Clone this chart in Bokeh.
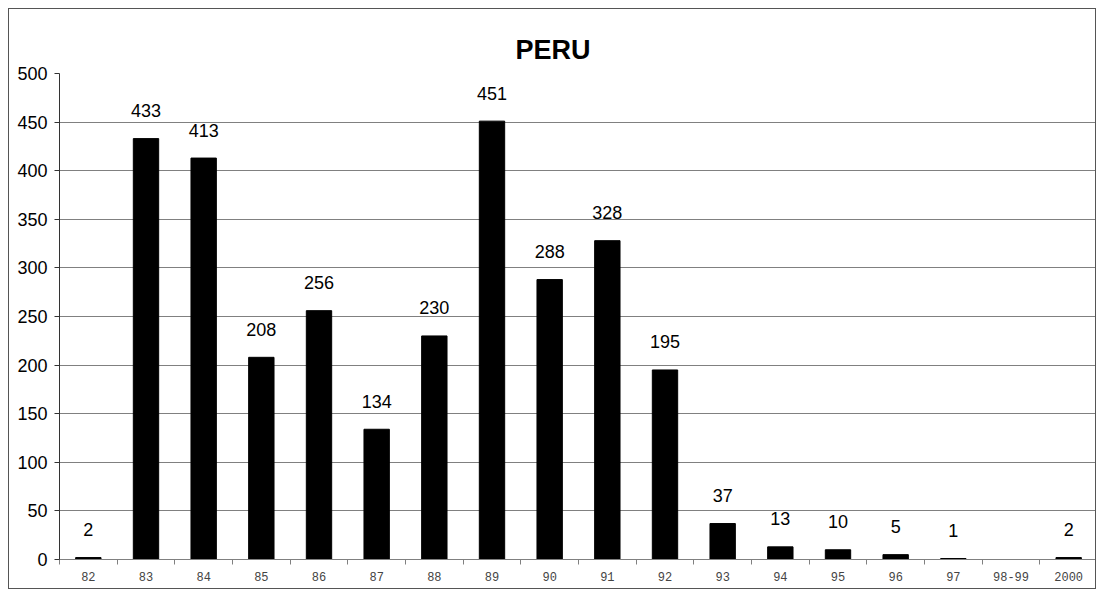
from bokeh.plotting import figure
from bokeh.models import ColumnDataSource, FixedTicker, Range1d
from bokeh.embed import file_html
from bokeh.resources import INLINE

title_text = "PERU"
categories = ["82", "83", "84", "85", "86", "87", "88", "89", "90", "91",
              "92", "93", "94", "95", "96", "97", "98-99", "2000"]
values = [2, 433, 413, 208, 256, 134, 230, 451, 288, 328,
          195, 37, 13, 10, 5, 1, 0, 2]
y_ticks = [0, 50, 100, 150, 200, 250, 300, 350, 400, 450, 500]

n = len(categories)
xs = [i + 0.5 for i in range(n)]
src = ColumnDataSource(dict(x=xs, top=values))
lab_idx = [i for i, v in enumerate(values) if v > 0]
lab = ColumnDataSource(dict(x=[xs[i] for i in lab_idx],
                            y=[values[i] for i in lab_idx],
                            t=[str(values[i]) for i in lab_idx]))

p = figure(width=1088, height=581, output_backend="svg", toolbar_location=None,
           x_range=Range1d(0, n), y_range=Range1d(0, 500),
           min_border_left=50, min_border_right=0, min_border_top=64,
           min_border_bottom=31)
p.styles = {"border": "1px solid #555555", "margin-left": "8px", "margin-top": "8px"}
p.outline_line_color = None
p.background_fill_color = "white"

p.title.text = title_text
p.title.align = "left"
p.title.text_font = "Liberation Sans"
p.title.text_font_size = "27px"
p.title.text_font_style = "bold"
p.title.text_color = "black"
p.title.offset = 456
p.title.standoff = 18

p.vbar(x="x", top="top", width=0.44, bottom=0, source=src,
       fill_color="black", line_color="black")
p.text(x="x", y="y", text="t", source=lab, text_align="center",
       text_baseline="middle", y_offset=-28, text_font_size="18px",
       text_font={"value": "Liberation Sans"}, text_color="black")

# x axis
xa = p.xaxis[0]
xa.ticker = FixedTicker(ticks=xs, minor_ticks=list(range(n + 1)))
xa.major_label_overrides = {x: c for x, c in zip(xs, categories)}
xa.major_tick_line_color = None
xa.major_tick_in = 0
xa.major_tick_out = 0
xa.minor_tick_in = 0
xa.minor_tick_out = 5
xa.minor_tick_line_color = "#808080"
xa.axis_line_color = "#808080"
xa.major_label_text_font = "Liberation Mono"
xa.major_label_text_font_size = "12px"
xa.major_label_text_color = "#444444"
xa.major_label_standoff = 7

# y axis
ya = p.yaxis[0]
ya.ticker = FixedTicker(ticks=y_ticks)
ya.minor_tick_line_color = None
ya.major_tick_in = 0
ya.major_tick_out = 5
ya.major_tick_line_color = "#333333"
ya.axis_line_color = "#333333"
ya.major_label_text_font = "Liberation Sans"
ya.major_label_text_font_size = "18px"
ya.major_label_text_color = "black"
ya.major_label_standoff = 7

p.xgrid.grid_line_color = None
p.ygrid.grid_line_color = "#808080"
p.ygrid.grid_line_width = 1

open("out.html", "w").write(file_html(p, INLINE))
